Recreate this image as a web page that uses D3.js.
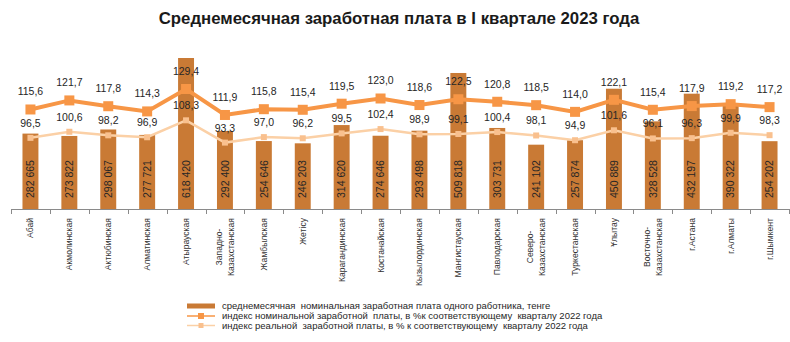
<!DOCTYPE html>
<html><head><meta charset="utf-8">
<script src="https://cdn.jsdelivr.net/npm/d3@7"></script>
<style>
html,body{margin:0;padding:0;background:#fff;}
svg{display:block;font-family:"Liberation Sans",Arial,sans-serif;}
</style></head>
<body>
<svg id="chart" width="790" height="342"></svg>
<script>
const title = "Среднемесячная заработная плата в I квартале 2023 года";
const regions = ["Абай","Акмолинская","Актюбинская","Алматинская","Атырауская","Западно-\nКазахстанская","Жамбылская","Жетісу","Карагандинская","Костанайская","Кызылординская","Мангистауская","Павлодарская","Северо-\nКазахстанская","Туркестанская","Ұлытау","Восточно-\nКазахстанская","г.Астана","г.Алматы","г.Шымкент"];
const wages = [282665,273822,298067,277721,618420,292400,254646,246203,314620,274646,293498,509818,303731,241102,257874,450889,328528,432197,390322,254202];
const nominalIndex = [115.6,121.7,117.8,114.3,129.4,111.9,115.8,115.4,119.5,123.0,118.6,122.5,120.8,118.5,114.0,122.1,115.4,117.9,119.2,117.2];
const realIndex = [96.5,100.6,98.2,96.9,108.3,93.3,97.0,96.2,99.5,102.4,98.9,99.1,100.4,98.1,94.9,101.6,96.1,96.3,99.9,98.3];
const legendLabels = ["среднемесячная  номинальная заработная плата одного работника, тенге",
  "индекс номинальной заработной  платы, в %к соответствующему  кварталу 2022 года",
  "индекс реальной  заработной платы, в % к соответствующему  кварталу 2022 года"];

const C_BAR = "#C97A35", C_NOM = "#F79646", C_REAL_LINE = "#FBD0A6", C_REAL_MK = "#F9C08E";
const fmtWage = v => d3.format(",")(v).replace(/,/g, " ");
const fmtIdx = v => d3.format(".1f")(v).replace(".", ",");

const svg = d3.select("#chart");
const axisY = 209;
const x = d3.scaleBand().domain(d3.range(regions.length)).range([11, 789]).padding(0);
const yBar = d3.scaleLinear().domain([0, 566000]).range([axisY, 58]).clamp(true);
const yIdx = d3.scaleLinear().domain([90, 130]).range([147.5, 88.1]);
const bw = x.bandwidth() * 0.41;
const cx = i => x(i) + x.bandwidth() / 2;

// title
svg.append("text").attr("x", 399).attr("y", 24).attr("text-anchor", "middle")
  .attr("font-size", 16.8).attr("font-weight", "bold").attr("fill", "#1a1a1a").text(title);

// bars
svg.append("g").selectAll("rect").data(wages).join("rect")
  .attr("x", (d, i) => cx(i) - bw / 2).attr("width", bw)
  .attr("y", d => yBar(d)).attr("height", d => axisY - yBar(d)).attr("fill", C_BAR);

// axis
const ax = svg.append("g");
ax.append("line").attr("x1", 11).attr("x2", 789).attr("y1", axisY + 0.5).attr("y2", axisY + 0.5)
  .attr("stroke", "#8a8a8a").attr("stroke-width", 1);
const tickXs = d3.range(regions.length).map(i => x(i)).concat([x.range()[1]]);
ax.selectAll("line.t").data(tickXs).join("line").attr("class", "t")
  .attr("x1", d => Math.round(d) + 0.5).attr("x2", d => Math.round(d) + 0.5)
  .attr("y1", axisY).attr("y2", axisY + 5).attr("stroke", "#8a8a8a");

// x labels
regions.forEach((r, i) => {
  const lines = r.split("\n");
  const g = svg.append("g");
  const texts = lines.map((ln, j) => g.append("text").attr("font-size", 8.6).attr("fill", "#333")
    .attr("text-anchor", "middle").attr("dy", "0.35em").text(ln));
  const lens = texts.map(t => t.node().getComputedTextLength());
  const L = d3.max(lens);
  texts.forEach((t, j) => {
    const off = (j - (lines.length - 1) / 2) * 12.5;
    t.attr("transform", `translate(${cx(i) + off},${218 + L / 2}) rotate(-90)`);
  });
});

// bar value labels
svg.append("g").selectAll("text").data(wages).join("text")
  .attr("transform", (d, i) => `translate(${cx(i)},198) rotate(-90)`)
  .attr("text-anchor", "start").attr("dy", "0.35em").attr("font-size", 10.5).attr("fill", "#262626")
  .text(fmtWage);

// real line
const line = d3.line().x((d, i) => cx(i)).y(d => yIdx(d));
svg.append("path").datum(realIndex).attr("d", line).attr("fill", "none")
  .attr("stroke", C_REAL_LINE).attr("stroke-width", 2.5);
svg.append("g").selectAll("rect").data(realIndex).join("rect")
  .attr("x", (d, i) => cx(i) - 3).attr("y", d => yIdx(d) - 3).attr("width", 6).attr("height", 6)
  .attr("fill", C_REAL_MK);

// nominal line
svg.append("path").datum(nominalIndex).attr("d", line).attr("fill", "none")
  .attr("stroke", C_NOM).attr("stroke-width", 4);
svg.append("g").selectAll("rect").data(nominalIndex).join("rect")
  .attr("x", (d, i) => cx(i) - 5).attr("y", d => yIdx(d) - 5).attr("width", 10).attr("height", 10)
  .attr("fill", C_NOM);

// index labels
svg.append("g").selectAll("text").data(nominalIndex).join("text")
  .attr("x", (d, i) => cx(i)).attr("y", d => yIdx(d) - 14).attr("text-anchor", "middle")
  .attr("font-size", 10.5).attr("fill", "#262626").text(fmtIdx);
svg.append("g").selectAll("text").data(realIndex).join("text")
  .attr("x", (d, i) => cx(i)).attr("y", d => yIdx(d) - 11).attr("text-anchor", "middle")
  .attr("font-size", 10.5).attr("fill", "#262626").text(fmtIdx);

// legend
const lg = svg.append("g");
const rowsY = [306, 316, 325.5];
lg.append("rect").attr("x", 187).attr("y", rowsY[0] - 2.5).attr("width", 28).attr("height", 5).attr("fill", C_BAR);
lg.append("line").attr("x1", 187).attr("x2", 215).attr("y1", rowsY[1]).attr("y2", rowsY[1]).attr("stroke", C_NOM).attr("stroke-width", 1.5);
lg.append("rect").attr("x", 198).attr("y", rowsY[1] - 3).attr("width", 6).attr("height", 6).attr("fill", C_NOM);
lg.append("line").attr("x1", 187).attr("x2", 215).attr("y1", rowsY[2]).attr("y2", rowsY[2]).attr("stroke", C_REAL_LINE).attr("stroke-width", 1.5);
lg.append("rect").attr("x", 198.5).attr("y", rowsY[2] - 2.5).attr("width", 5).attr("height", 5).attr("fill", C_REAL_MK);
legendLabels.forEach((t, i) => {
  lg.append("text").attr("x", 222).attr("y", rowsY[i]).attr("dy", "0.35em").attr("font-size", 9.5)
    .attr("fill", "#262626").attr("xml:space", "preserve").style("white-space", "pre").text(t);
});
</script>
</body></html>
